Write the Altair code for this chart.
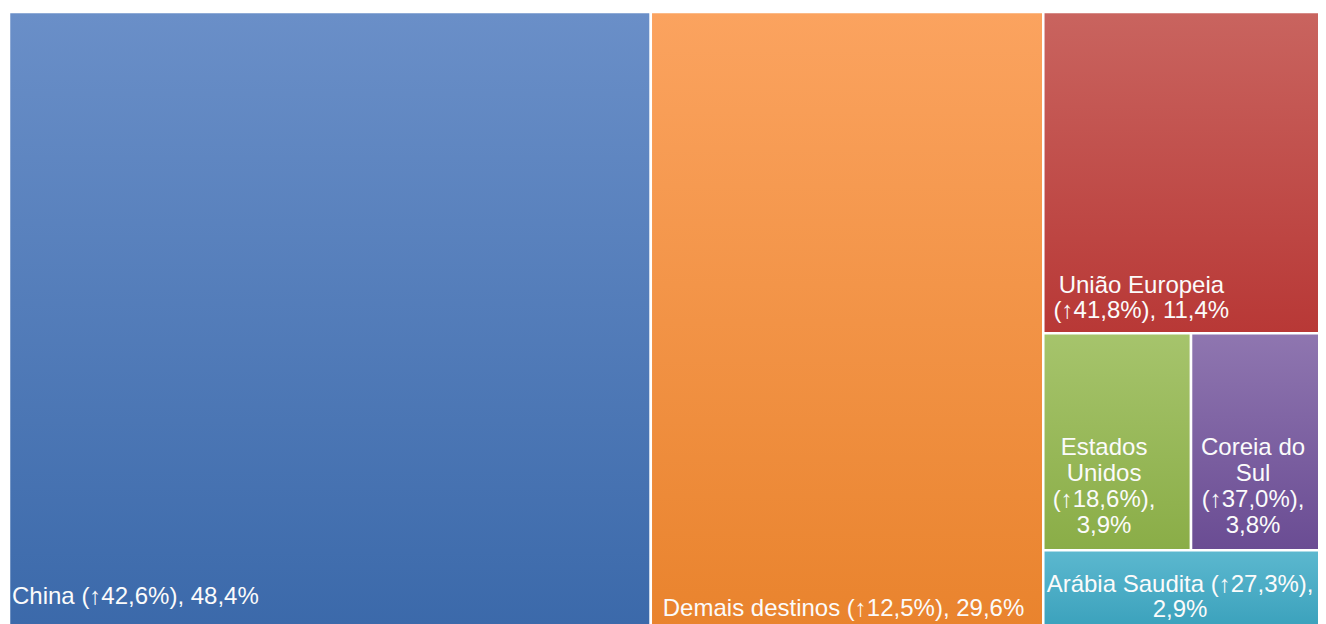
import altair as alt
import pandas as pd

# ---------------- data ----------------
categories = ["China", "Demais destinos", "União Europeia",
              "Estados Unidos", "Coreia do Sul", "Arábia Saudita"]
shares = [48.4, 29.6, 11.4, 3.9, 3.8, 2.9]          # % of exports
growth = [42.6, 12.5, 41.8, 18.6, 37.0, 27.3]       # % change
label_lines = [
    ["China (↑42,6%), 48,4%"],
    ["Demais destinos (↑12,5%), 29,6%"],
    ["União Europeia", "(↑41,8%), 11,4%"],
    ["Estados", "Unidos", "(↑18,6%),", "3,9%"],
    ["Coreia do", "Sul", "(↑37,0%),", "3,8%"],
    ["Arábia Saudita (↑27,3%),", "2,9%"],
]

# ---------------- style ----------------
top_colors = ["#6a8fc8", "#fba35f", "#c9645f", "#a6c46c", "#8f76b0", "#5cb8cf"]
bottom_colors = ["#3b69aa", "#e9832d", "#b83836", "#8aad47", "#6a4c93", "#39a0bb"]
TW, PH = 1326, 620            # full treemap extent in px (right part runs off the page)
VW = 1309                     # visible plot width in px
label_pad = [3, 12, 10, 10, 10, 4]         # px from left edge of tile
label_bottom = [28, 16, 15, 17, 17, 15]    # px baseline of last line above tile bottom
label_lh = [26, 26, 25, 26, 26, 25]        # line height px
FONT = "Liberation Sans"
FS = 24

# ---------------- treemap layout (slice & dice by value) ----------------
tree = ("h", [0, 1, ("v", [2, ("h", [3, 4]), 5])])


def total(node):
    if isinstance(node, int):
        return shares[node]
    return sum(total(c) for c in node[1])


rects = {}


def layout(node, x0, x1, y0, y1):
    if isinstance(node, int):
        rects[node] = (x0, x1, y0, y1)
        return
    direction, children = node
    tot = total(node)
    pos = x0 if direction == "h" else y0
    for c in children:
        frac = total(c) / tot
        if direction == "h":
            step = (x1 - x0) * frac
            layout(c, pos, pos + step, y0, y1)
        else:
            step = (y1 - y0) * frac
            layout(c, x0, x1, pos, pos + step)
        pos += step


layout(tree, 0.0, 100.0, 0.0, 100.0)

rect_df = pd.DataFrame([
    {"idx": i, "name": categories[i], "share": shares[i], "growth": growth[i],
     "x0": rects[i][0], "x1": rects[i][1], "y0": rects[i][2], "y1": rects[i][3]}
    for i in range(len(categories))
])

# approximate Arial/Liberation Sans advance widths (1/1000 em)
W = {" ": 278, "(": 333, ")": 333, ",": 278, "%": 889, "↑": 450,
     "C": 722, "D": 722, "U": 722, "E": 667, "S": 667, "A": 667,
     "i": 222, "l": 222, "r": 333, "t": 278, "s": 500, "m": 833}


def text_w(s):
    return sum(W.get(ch, 556) for ch in s) * FS / 1000.0


ux = 100.0 / TW
uy = 100.0 / PH
label_rows = []
for i, lines in enumerate(label_lines):
    x0, x1, y0, y1 = rects[i]
    block_w = max(text_w(l) for l in lines)
    n = len(lines)
    for k, line in enumerate(lines):
        base_y = y1 - (label_bottom[i] + (n - 1 - k) * label_lh[i]) * uy
        if n == 1:
            lx, al = x0 + label_pad[i] * ux, "left"
        else:
            lx, al = x0 + (label_pad[i] + block_w / 2) * ux, "center"
        label_rows.append({"text": line, "lx": lx, "ly": base_y, "al": al})
label_df = pd.DataFrame(label_rows)

xs = alt.Scale(domain=[0, 100], range=[0, TW], nice=False, zero=False)
ys = alt.Scale(domain=[0, 100], nice=False, zero=False, reverse=True)

layers = []
base = alt.Chart(rect_df)
for i in range(len(categories)):
    grad = {"gradient": "linear", "x1": 0, "y1": 0, "x2": 0, "y2": 1,
            "stops": [{"offset": 0, "color": top_colors[i]},
                      {"offset": 1, "color": bottom_colors[i]}]}
    layers.append(
        base.transform_filter(alt.datum.idx == i)
        .mark_rect(fill=grad, stroke="white", strokeWidth=2.5)
        .encode(
            x=alt.X("x0:Q", scale=xs, axis=None),
            x2="x1:Q",
            y=alt.Y("y0:Q", scale=ys, axis=None),
            y2="y1:Q",
            tooltip=["name:N", "share:Q", "growth:Q"],
        )
    )

tbase = alt.Chart(label_df)
for al in ["left", "center"]:
    layers.append(
        tbase.transform_filter(alt.datum.al == al)
        .mark_text(align=al, baseline="alphabetic", font=FONT, fontSize=FS,
                   color="#fbfbfb")
        .encode(
            x=alt.X("lx:Q", scale=xs, axis=None),
            y=alt.Y("ly:Q", scale=ys, axis=None),
            text="text:N",
        )
    )

chart = alt.layer(*layers).properties(
    width=VW, height=PH,
    autosize=alt.AutoSizeParams(type="none"),
    padding={"left": 1, "top": 4, "right": 0, "bottom": 0},
    background="white",
).configure_view(stroke=None)

chart.save("out.html", embed_options={"renderer": "svg", "actions": False})
